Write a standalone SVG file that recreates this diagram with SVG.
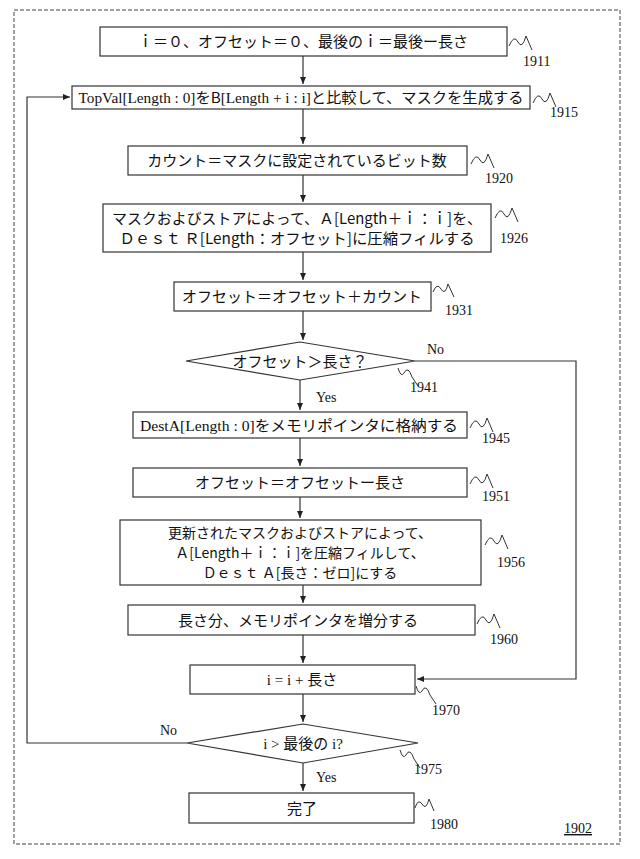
<svg xmlns="http://www.w3.org/2000/svg" width="640" height="859" viewBox="0 0 640 859">
<defs>
<style>
.b{fill:#fff;stroke:#333;stroke-width:1.2}
.t{font-family:"Noto Sans CJK JP","Noto Sans",sans-serif;font-size:15px;fill:#111;text-anchor:middle}
.t2{font-family:"Noto Sans CJK JP","Noto Sans",sans-serif;font-size:14px;fill:#111;text-anchor:middle}
.n{font-family:"Liberation Serif",serif;font-size:14px;fill:#111}
.c{fill:none;stroke:#333;stroke-width:1.2}
.s{fill:none;stroke:#333;stroke-width:1}
</style>
<marker id="a" markerWidth="8" markerHeight="8" refX="7" refY="4" orient="auto" markerUnits="userSpaceOnUse"><path d="M0,1 L7,4 L0,7z" fill="#222"/></marker>
</defs>
<rect width="640" height="859" fill="#fff"/>
<rect x="14" y="10" width="606" height="834" fill="none" stroke="#444" stroke-dasharray="4,2"/>
<g id="connectors">
<path class="c" d="M303,56V84" marker-end="url(#a)"/>
<path class="c" d="M303,108V144" marker-end="url(#a)"/>
<path class="c" d="M303,175V202" marker-end="url(#a)"/>
<path class="c" d="M303,252V280" marker-end="url(#a)"/>
<path class="c" d="M303,311V340" marker-end="url(#a)"/>
<path class="c" d="M300,380V410" marker-end="url(#a)"/>
<path class="c" d="M300,438V466" marker-end="url(#a)"/>
<path class="c" d="M300,497V518" marker-end="url(#a)"/>
<path class="c" d="M303,585V603" marker-end="url(#a)"/>
<path class="c" d="M303,635V663" marker-end="url(#a)"/>
<path class="c" d="M303,694V722" marker-end="url(#a)"/>
<path class="c" d="M303,763V791" marker-end="url(#a)"/>
<path class="c" d="M415,361H576V679H417" marker-end="url(#a)"/>
<path class="c" d="M187,743H27V97H70" marker-end="url(#a)"/>
<text class="n" x="427" y="354">No</text>
<text class="n" x="316" y="402">Yes</text>
<text class="n" x="160" y="735">No</text>
<text class="n" x="316" y="782">Yes</text>
</g>
<g id="n1911"><rect class="b" x="100" y="27" width="407" height="29"/><text class="t" x="303" y="47">ｉ＝０、オフセット＝０、最後のｉ＝最後ー長さ</text><path class="s" d="M509,46 q5,-12 9,-4 q4,8 8,-6 l6,14"/><text class="n" x="523" y="66">1911</text></g>
<g id="n1915"><rect class="b" x="72" y="86" width="458" height="23"/><text class="t" x="301" y="103" textLength="445" lengthAdjust="spacingAndGlyphs"><tspan style="font-family:'Liberation Serif',serif">TopVal[Length : 0]</tspan>をB<tspan style="font-family:'Liberation Serif',serif">[Length + i : i]</tspan>と比較して、マスクを生成する</text><path class="s" d="M533,103 q5,-12 9,-4 q4,8 8,-6 l6,14"/><text class="n" x="550" y="117">1915</text></g>
<g id="n1920"><rect class="b" x="128" y="146" width="339" height="29"/><text class="t" x="297" y="166">カウント＝マスクに設定されているビット数</text><path class="s" d="M471,164 q5,-12 9,-4 q4,8 8,-6 l6,14"/><text class="n" x="485" y="183">1920</text></g>
<g id="n1926"><rect class="b" x="103" y="204" width="388" height="48"/><text class="t" x="297" y="224" textLength="370" lengthAdjust="spacingAndGlyphs">マスクおよびストアによって、Ａ[Length＋ｉ：ｉ]を、</text><text class="t" x="297" y="244" textLength="355" lengthAdjust="spacingAndGlyphs">Ｄｅｓｔ Ｒ[Length：オフセット]に圧縮フィルする</text><path class="s" d="M495,218 q5,-12 9,-4 q4,8 8,-6 l6,14"/><text class="n" x="500" y="243">1926</text></g>
<g id="n1931"><rect class="b" x="174" y="282" width="257" height="29"/><text class="t" x="302" y="302">オフセット＝オフセット＋カウント</text><path class="s" d="M433,292 q4,-10 8,-3 q4,7 7,-5 l6,13"/><text class="n" x="445" y="315">1931</text></g>
<g id="n1941"><path class="b" d="M186,361 L300,342 L415,361 L300,380z"/><text class="t" x="300" y="367">オフセット＞長さ？</text><path class="s" d="M398,368 q3,10 6,5 q4,-8 8,4 l6,9"/><text class="n" x="410" y="392">1941</text></g>
<g id="n1945"><rect class="b" x="133" y="412" width="334" height="26"/><text class="t" x="299" y="431" textLength="318" lengthAdjust="spacingAndGlyphs"><tspan style="font-family:'Liberation Serif',serif">DestA[Length : 0]</tspan>をメモリポインタに格納する</text><path class="s" d="M470,428 q5,-12 9,-4 q4,8 8,-6 l6,14"/><text class="n" x="482" y="443">1945</text></g>
<g id="n1951"><rect class="b" x="133" y="468" width="334" height="29"/><text class="t" x="300" y="488">オフセット＝オフセットー長さ</text><path class="s" d="M470,484 q5,-12 9,-4 q4,8 8,-6 l6,14"/><text class="n" x="482" y="501">1951</text></g>
<g id="n1956"><rect class="b" x="120" y="520" width="361" height="65"/><text class="t2" x="300" y="538">更新されたマスクおよびストアによって、</text><text class="t2" x="300" y="558">Ａ[Length＋ｉ：ｉ]を圧縮フィルして、</text><text class="t2" x="300" y="578">Ｄｅｓｔ Ａ[長さ：ゼロ]にする</text><path class="s" d="M485,545 q5,-12 9,-4 q4,8 8,-6 l6,14"/><text class="n" x="497" y="567">1956</text></g>
<g id="n1960"><rect class="b" x="128" y="605" width="347" height="30"/><text class="t" x="298" y="626">長さ分、メモリポインタを増分する</text><path class="s" d="M477,624 q5,-12 9,-4 q4,8 8,-6 l6,14"/><text class="n" x="490" y="644">1960</text></g>
<g id="n1970"><rect class="b" x="190" y="665" width="225" height="29"/><text class="t" x="302" y="685"><tspan style="font-family:'Liberation Serif',serif">i = i + </tspan>長さ</text><path class="s" d="M416,686 q3,10 6,5 q4,-8 8,4 l6,9"/><text class="n" x="432" y="715">1970</text></g>
<g id="n1975"><path class="b" d="M187,743 L303,724 L418,743 L303,763z"/><text class="t" x="303" y="749"><tspan style="font-family:'Liberation Serif',serif">i &gt; </tspan>最後の<tspan style="font-family:'Liberation Serif',serif"> i?</tspan></text><path class="s" d="M400,750 q3,10 6,5 q4,-8 8,4 l6,9"/><text class="n" x="414" y="774">1975</text></g>
<g id="n1980"><rect class="b" x="189" y="793" width="225" height="30"/><text class="t" x="302" y="814">完了</text><path class="s" d="M415,808 q3,-10 7,-4 q4,7 7,-5 l5,12"/><text class="n" x="430" y="829">1980</text></g>
<text class="n" x="564" y="833" text-decoration="underline">1902</text>
</svg>
